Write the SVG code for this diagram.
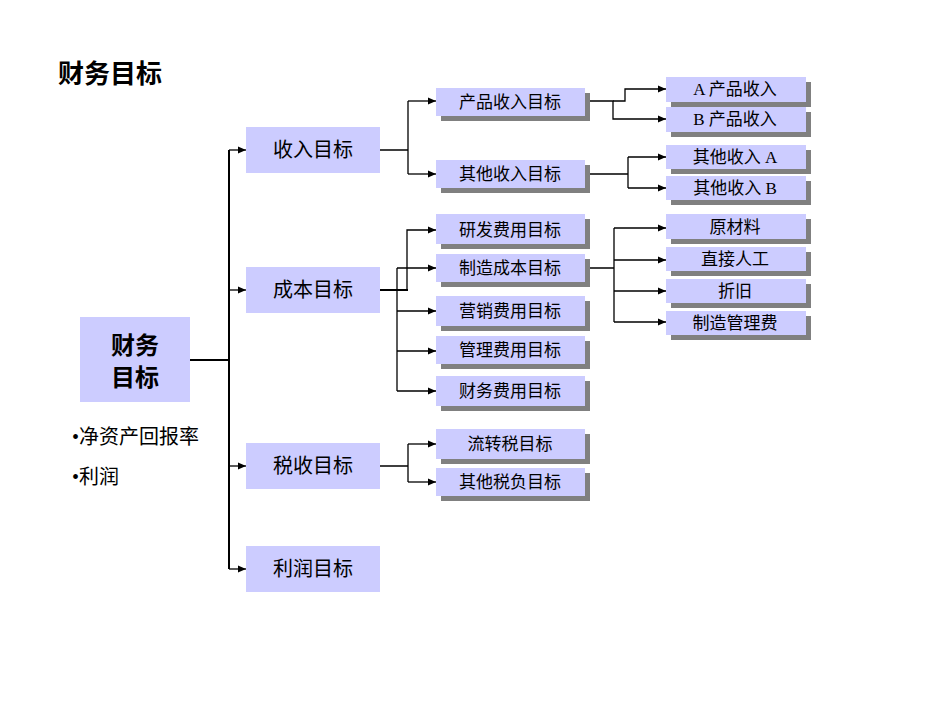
<svg xmlns="http://www.w3.org/2000/svg" width="950" height="713" viewBox="0 0 950 713">
<style>
.b{fill:#ccccff}
.s{fill:#808080}
.t{font-family:"Liberation Serif","Noto Sans CJK SC",serif;font-size:17px;fill:#000;text-anchor:middle}
.t1{font-family:"Liberation Sans","Noto Sans CJK SC",sans-serif;font-size:20px;fill:#000;text-anchor:middle}
.c{stroke:#000;stroke-width:1.3;fill:none}
</style>
<defs><marker id="a" markerWidth="8" markerHeight="8" refX="8" refY="4" orient="auto" markerUnits="userSpaceOnUse"><path d="M0,0.5 L8,4 L0,7.5z" fill="#000"/></marker></defs>
<rect width="950" height="713" fill="#fff"/>
<text x="58" y="83" style="font-family:'Liberation Sans','Noto Sans CJK SC',sans-serif;font-size:26px;font-weight:bold">财务目标</text>
<g id="root"><rect class="b" x="80" y="317" width="110" height="85"/><text class="t1" x="135" y="354" style="font-size:24px;font-weight:bold">财务</text><text class="t1" x="135" y="386" style="font-size:24px;font-weight:bold">目标</text></g>
<g font-family="Liberation Serif,Noto Sans CJK SC,serif" font-size="20"><text x="72" y="444">•净资产回报率</text><text x="72" y="484">•利润</text></g>
<g id="l1">
<g id="n1"><rect class="b" x="246" y="127" width="134" height="46"/><text class="t1" x="313" y="157">收入目标</text></g>
<g id="n2"><rect class="b" x="246" y="267" width="134" height="46"/><text class="t1" x="313" y="297">成本目标</text></g>
<g id="n3"><rect class="b" x="246" y="443" width="134" height="46"/><text class="t1" x="313" y="473">税收目标</text></g>
<g id="n4"><rect class="b" x="246" y="546" width="134" height="46"/><text class="t1" x="313" y="576">利润目标</text></g>
</g>
<g id="l2">
<g id="p1"><rect class="s" x="441" y="93" width="149" height="28"/><rect class="b" x="436" y="88" width="149" height="28"/><text class="t" x="510" y="108">产品收入目标</text></g>
<g id="p2"><rect class="s" x="441" y="165" width="149" height="28"/><rect class="b" x="436" y="160" width="149" height="28"/><text class="t" x="510" y="180">其他收入目标</text></g>
<g id="p3"><rect class="s" x="441" y="219" width="149" height="30"/><rect class="b" x="436" y="214" width="149" height="30"/><text class="t" x="510" y="236">研发费用目标</text></g>
<g id="p4"><rect class="s" x="441" y="259" width="149" height="28"/><rect class="b" x="436" y="254" width="149" height="28"/><text class="t" x="510" y="274">制造成本目标</text></g>
<g id="p5"><rect class="s" x="441" y="301" width="149" height="30"/><rect class="b" x="436" y="296" width="149" height="30"/><text class="t" x="510" y="317">营销费用目标</text></g>
<g id="p6"><rect class="s" x="441" y="341" width="149" height="28"/><rect class="b" x="436" y="336" width="149" height="28"/><text class="t" x="510" y="356">管理费用目标</text></g>
<g id="p7"><rect class="s" x="441" y="381" width="149" height="30"/><rect class="b" x="436" y="376" width="149" height="30"/><text class="t" x="510" y="397">财务费用目标</text></g>
<g id="p8"><rect class="s" x="441" y="434" width="149" height="30"/><rect class="b" x="436" y="429" width="149" height="30"/><text class="t" x="510" y="450">流转税目标</text></g>
<g id="p9"><rect class="s" x="441" y="473" width="149" height="28"/><rect class="b" x="436" y="468" width="149" height="28"/><text class="t" x="510" y="488">其他税负目标</text></g>
</g>
<g id="l3">
<g id="q1"><rect class="s" x="671" y="82" width="140" height="25"/><rect class="b" x="666" y="77" width="140" height="25"/><text class="t" x="735" y="95">A 产品收入</text></g>
<g id="q2"><rect class="s" x="671" y="112" width="140" height="25"/><rect class="b" x="666" y="107" width="140" height="25"/><text class="t" x="735" y="125">B 产品收入</text></g>
<g id="q3"><rect class="s" x="671" y="150" width="140" height="24"/><rect class="b" x="666" y="145" width="140" height="24"/><text class="t" x="735" y="163">其他收入 A</text></g>
<g id="q4"><rect class="s" x="671" y="181" width="140" height="24"/><rect class="b" x="666" y="176" width="140" height="24"/><text class="t" x="735" y="194">其他收入 B</text></g>
<g id="q5"><rect class="s" x="671" y="219" width="140" height="25"/><rect class="b" x="666" y="214" width="140" height="25"/><text class="t" x="735" y="233">原材料</text></g>
<g id="q6"><rect class="s" x="671" y="252" width="140" height="24"/><rect class="b" x="666" y="247" width="140" height="24"/><text class="t" x="735" y="265">直接人工</text></g>
<g id="q7"><rect class="s" x="671" y="284" width="140" height="24"/><rect class="b" x="666" y="279" width="140" height="24"/><text class="t" x="735" y="297">折旧</text></g>
<g id="q8"><rect class="s" x="671" y="316" width="140" height="24"/><rect class="b" x="666" y="311" width="140" height="24"/><text class="t" x="735" y="329">制造管理费</text></g>
</g>
<g id="connectors">
<path class="c" d="M190,360H229M229,150V569" style="stroke-width:2"/>
<path class="c" d="M229,150H246" marker-end="url(#a)"/><path class="c" d="M229,290H246" marker-end="url(#a)"/><path class="c" d="M229,466H246" marker-end="url(#a)"/><path class="c" d="M229,569H246" marker-end="url(#a)"/>
<path class="c" d="M380,150H408M408,101V174"/>
<path class="c" d="M408,101H436" marker-end="url(#a)"/><path class="c" d="M408,174H436" marker-end="url(#a)"/>
<path class="c" d="M380,290H408" style="stroke-width:2"/>
<path class="c" d="M407,290V230H436" marker-end="url(#a)"/>
<path class="c" d="M397,268V391"/>
<path class="c" d="M397,268H436" marker-end="url(#a)"/><path class="c" d="M397,311H436" marker-end="url(#a)"/><path class="c" d="M397,351H436" marker-end="url(#a)"/><path class="c" d="M397,391H436" marker-end="url(#a)"/>
<path class="c" d="M380,466H408M408,444V482"/>
<path class="c" d="M408,444H436" marker-end="url(#a)"/><path class="c" d="M408,482H436" marker-end="url(#a)"/>
<path class="c" d="M590,101H613V119H666" marker-end="url(#a)"/>
<path class="c" d="M613,101H625V89H666" marker-end="url(#a)"/>
<path class="c" d="M590,174H628M628,157V188"/>
<path class="c" d="M628,157H666" marker-end="url(#a)"/><path class="c" d="M628,188H666" marker-end="url(#a)"/>
<path class="c" d="M590,268H614M614,228V322"/>
<path class="c" d="M614,228H666" marker-end="url(#a)"/><path class="c" d="M614,260H666" marker-end="url(#a)"/><path class="c" d="M614,291H666" marker-end="url(#a)"/><path class="c" d="M614,322H666" marker-end="url(#a)"/>
</g>
</svg>
